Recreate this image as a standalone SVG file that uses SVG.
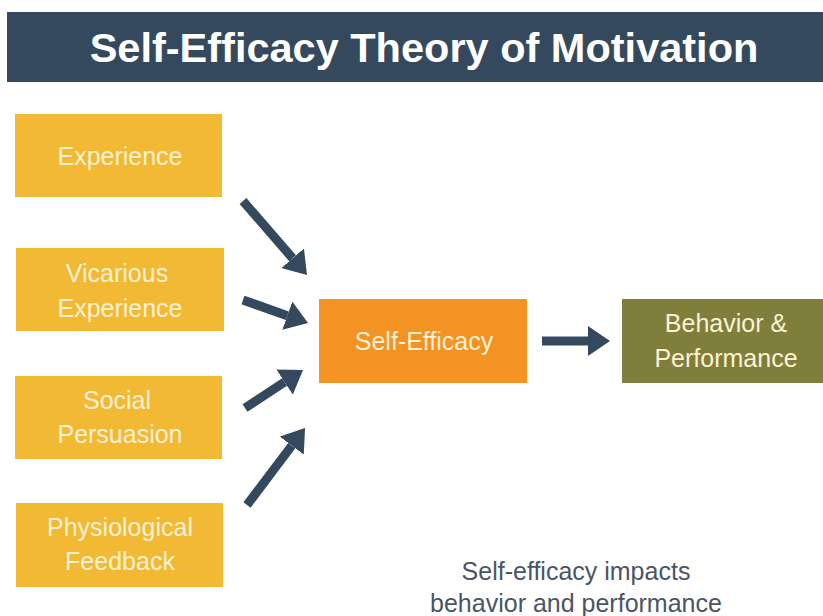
<svg xmlns="http://www.w3.org/2000/svg" width="823" height="616" viewBox="0 0 823 616">
<defs>
<style>
.src{fill:#F2B935}
.lbl{font-family:"Liberation Sans",Arial,sans-serif;font-size:25px;fill:#FDF1D3;text-anchor:middle}
.conn{stroke:#34495E;stroke-width:9;fill:none;marker-end:url(#ah)}
.note{font-family:"Liberation Sans",Arial,sans-serif;font-size:25px;fill:#4A5563;text-anchor:middle}
</style>
<marker id="ah" markerUnits="userSpaceOnUse" viewBox="0 0 22 30" markerWidth="22" markerHeight="30" refX="0" refY="15" orient="auto">
<path d="M0,0 L22,15 L0,30 z" fill="#34495E"/>
</marker>
</defs>
<rect width="823" height="616" fill="#FFFFFF"/>
<g id="title">
<rect x="7" y="12" width="816" height="70" fill="#34495E"/>
<text x="424" y="62" font-family="'Liberation Sans',Arial,sans-serif" font-size="41.5" font-weight="bold" fill="#FFFFFF" text-anchor="middle">Self-Efficacy Theory of Motivation</text>
</g>
<g id="experience">
<rect class="src" x="15" y="114" width="207" height="83"/>
<text class="lbl" x="120" y="165">Experience</text>
</g>
<g id="vicarious">
<rect class="src" x="16" y="248" width="208" height="83"/>
<text class="lbl" x="117" y="282">Vicarious</text>
<text class="lbl" x="120" y="317">Experience</text>
</g>
<g id="social">
<rect class="src" x="15" y="376" width="207" height="83"/>
<text class="lbl" x="117" y="409">Social</text>
<text class="lbl" x="120" y="443">Persuasion</text>
</g>
<g id="physiological">
<rect class="src" x="16" y="503" width="207" height="84"/>
<text class="lbl" x="120" y="536">Physiological</text>
<text class="lbl" x="120" y="570">Feedback</text>
</g>
<g id="selfefficacy">
<rect x="319" y="299" width="208" height="84" fill="#F39324"/>
<text class="lbl" x="424" y="350">Self-Efficacy</text>
</g>
<g id="behavior">
<rect x="622" y="299" width="201" height="84" fill="#7F7E3A"/>
<text class="lbl" x="726" y="332">Behavior &amp;</text>
<text class="lbl" x="726" y="367">Performance</text>
</g>
<g id="connectors">
<line class="conn" x1="243" y1="201" x2="292.6" y2="258.3"/>
<line class="conn" x1="243" y1="300" x2="287.3" y2="315.7"/>
<line class="conn" x1="245" y1="408" x2="284.6" y2="382.1"/>
<line class="conn" x1="247" y1="505" x2="291.8" y2="445.6"/>
<line class="conn" x1="542" y1="341" x2="588" y2="341"/>
</g>
<g id="note">
<text class="note" x="576" y="580">Self-efficacy impacts</text>
<text class="note" x="576" y="612">behavior and performance</text>
</g>
</svg>
